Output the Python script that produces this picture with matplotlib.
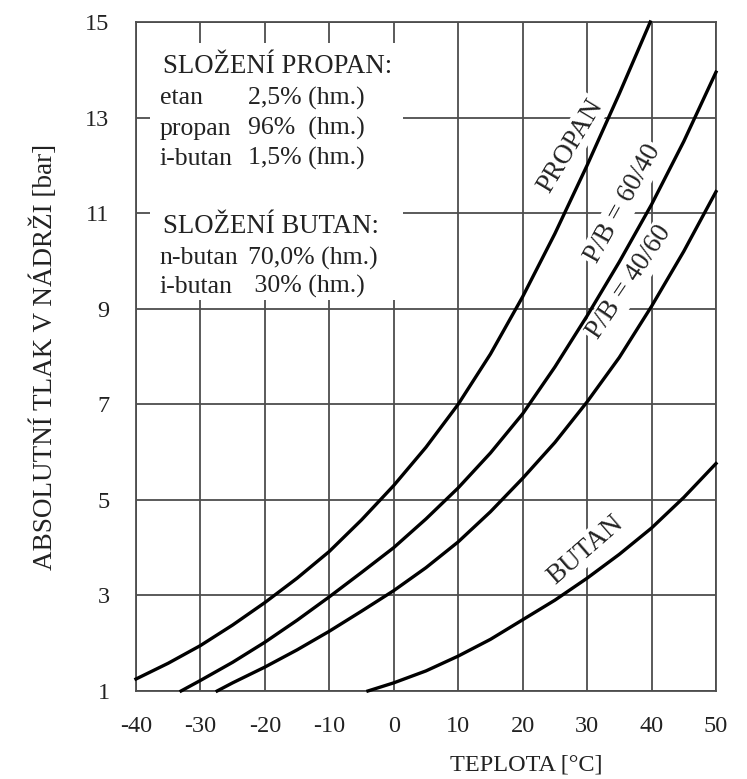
import matplotlib
matplotlib.use("Agg")
import matplotlib.pyplot as plt
from matplotlib.patches import Rectangle

plt.rcParams['font.family'] = ['Liberation Serif', 'DejaVu Serif']
plt.rcParams['axes.unicode_minus'] = False

# vapour pressure curves, temperature [°C] -> absolute pressure [bar]
propan_t = [-40, -35, -30, -25, -20, -15, -10, -5, 0, 5, 10, 15, 20, 25, 30, 35, 39.8]
propan_p = [1.25, 1.58, 1.95, 2.38, 2.85, 3.36, 3.92, 4.58, 5.3, 6.1, 7.0, 8.05, 9.25, 10.57, 12.0, 13.5, 15.0]

pb6040_t = [-33, -30, -25, -20, -15, -10, -5, 0, 5, 10, 15, 20, 25, 30, 35, 40, 45, 50]
pb6040_p = [1.0, 1.22, 1.6, 2.02, 2.48, 2.97, 3.48, 4.0, 4.6, 5.25, 5.98, 6.8, 7.78, 8.85, 9.98, 11.18, 12.5, 13.95]

pb4060_t = [-27.4, -25, -20, -15, -10, -5, 0, 5, 10, 15, 20, 25, 30, 35, 40, 45, 50]
pb4060_p = [1.0, 1.17, 1.5, 1.86, 2.25, 2.67, 3.1, 3.58, 4.12, 4.75, 5.45, 6.2, 7.05, 7.98, 9.05, 10.2, 11.45]

butan_t = [-4, 0, 5, 10, 15, 20, 25, 30, 35, 40, 45, 50]
butan_p = [1.0, 1.17, 1.42, 1.73, 2.08, 2.49, 2.9, 3.36, 3.86, 4.41, 5.05, 5.76]

x_ticks = [-40, -30, -20, -10, 0, 10, 20, 30, 40, 50]
y_ticks = [1, 3, 5, 7, 9, 11, 13, 15]

propan_lines = [("etan", "2,5% (hm.)"), ("propan", "96%  (hm.)"), ("i-butan", "1,5% (hm.)")]
butan_lines = [("n-butan", "70,0% (hm.)"), ("i-butan", " 30% (hm.)")]

fig = plt.figure(figsize=(7.47, 7.79), dpi=100)
ax = fig.add_axes([0.182, 0.113, 0.7765, 0.8588])

grid_c = "#4d4d4d"
ax.set_xlim(-40, 50)
ax.set_ylim(1, 15)
ax.set_xticks(x_ticks)
ax.set_yticks(y_ticks)
ax.tick_params(length=0, labelsize=17.5, colors="#222222")
ax.tick_params(axis="x", pad=18)
ax.tick_params(axis="y", pad=19)
ax.grid(True, color=grid_c, linewidth=1.3)
ax.set_axisbelow(True)
for s in ax.spines.values():
    s.set_color(grid_c)
    s.set_linewidth(1.3)

# curves sit above the white label boxes so they are never cut
for t, p in [(propan_t, propan_p), (pb6040_t, pb6040_p),
             (pb4060_t, pb4060_p), (butan_t, butan_p)]:
    ax.plot(t, p, color="black", linewidth=2.4, zorder=5, clip_on=False,
            solid_joinstyle="round")

# white block with the composition notes
ax.add_patch(Rectangle((-37.8, 9.18), 39.3, 5.38, facecolor="white",
                       edgecolor="none", zorder=2))

txt = dict(fontsize=18.5, color="#222222", va="center", zorder=4)
head = dict(txt, fontsize=19.3)
ax.text(-35.8, 14.06, "SLOŽENÍ PROPAN:", ha="left", **head)
for i, (name, val) in enumerate(propan_lines):
    y = 13.40 - i * 0.63
    ax.text(-36.3, y, name, ha="left", **txt)
    ax.text(-22.6, y, val, ha="left", **txt)
ax.text(-35.8, 10.72, "SLOŽENÍ BUTAN:", ha="left", **head)
for i, (name, val) in enumerate(butan_lines):
    y = 10.06 - i * 0.6
    ax.text(-36.3, y, name, ha="left", **txt)
    ax.text(-22.6, y, val, ha="left", **txt)

# curve names
box = dict(facecolor="white", edgecolor="none", pad=1.5)
lab = dict(fontsize=19.5, color="#222222", ha="center", va="center",
           rotation_mode="anchor", bbox=box, zorder=4)
ax.text(27.4, 12.4, "PROPAN", rotation=59, **lab)
ax.text(35.6, 11.2, "P/B = 60/40", rotation=61, **lab)
ax.text(36.6, 9.55, "P/B = 40/60", rotation=56, **lab)
ax.text(29.7, 3.95, "BUTAN", rotation=41, **lab)

ax.set_ylabel("ABSOLUTNÍ TLAK V NÁDRŽI [bar]", fontsize=19.5, color="#222222",
              labelpad=0)
ax.yaxis.set_label_coords(-0.135, 0.5)
fig.text(526 / 747, 1 - 765 / 779, "TEPLOTA [°C]", fontsize=17.5, color="#222222",
         ha="center", va="center")

fig.savefig("out.png", dpi=100, facecolor="white")
